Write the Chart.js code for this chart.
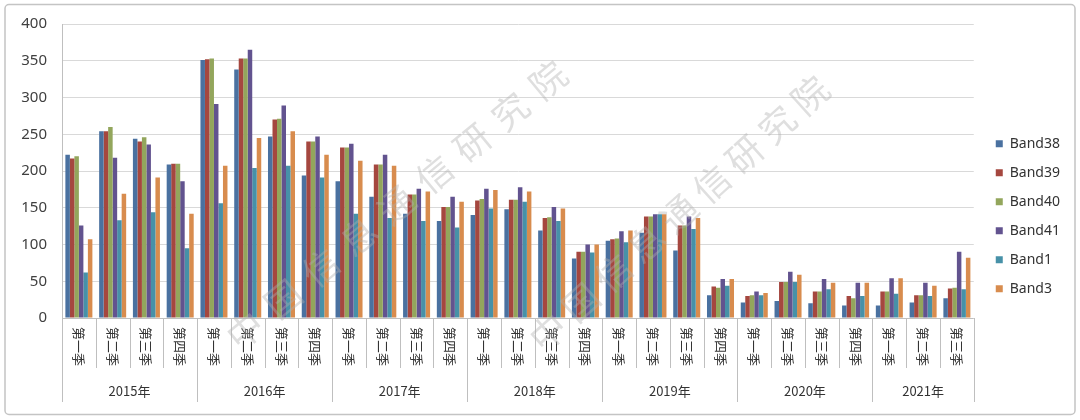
<!DOCTYPE html>
<html>
<head>
<meta charset="utf-8">
<script src="https://cdn.jsdelivr.net/npm/chart.js@4.4.0/dist/chart.umd.min.js"></script>
<style>
  html, body { margin: 0; padding: 0; background: #fff; }
  #chart { display: block; }
</style>
</head>
<body>
<canvas id="chart" width="1080" height="420"></canvas>
<script>
// categories
const quarterNames = ["第一季", "第二季", "第三季", "第四季"];
const years = ["2015年", "2016年", "2017年", "2018年", "2019年", "2020年", "2021年"];
const quartersPerYear = [4, 4, 4, 4, 4, 4, 3];

// series values
const band38 = [222, 254, 244, 209, 351, 338, 247, 194, 186, 165, 142, 132, 140, 148, 119, 81, 105, 116, 92, 31, 21, 23, 20, 17, 17, 21, 27];
const band39 = [217, 254, 240, 210, 352, 353, 270, 240, 232, 209, 168, 151, 160, 161, 136, 90, 107, 138, 126, 43, 30, 49, 36, 30, 36, 31, 40];
const band40 = [220, 260, 246, 210, 353, 353, 271, 240, 232, 209, 168, 151, 162, 161, 137, 90, 108, 138, 126, 41, 31, 49, 36, 27, 36, 31, 41];
const band41 = [126, 218, 236, 186, 291, 365, 289, 247, 237, 222, 176, 165, 176, 178, 151, 100, 118, 141, 138, 53, 36, 63, 53, 48, 54, 48, 90];
const band1  = [62, 133, 144, 95, 156, 204, 207, 191, 142, 136, 132, 123, 149, 158, 132, 89, 103, 141, 121, 44, 31, 49, 39, 30, 33, 30, 39];
const band3  = [107, 169, 191, 142, 207, 245, 254, 222, 214, 207, 172, 158, 174, 172, 149, 100, 119, 141, 136, 53, 34, 59, 48, 48, 54, 44, 82];

const yTicks = [0, 50, 100, 150, 200, 250, 300, 350, 400];
const watermark = "中国信息通信研究院";

// build the category list: one entry per quarter
let labels = [];
quartersPerYear.forEach((n, y) => {
  for (let q = 0; q < n; q++) labels.push(quarterNames[q]);
});

const seriesNames = ["Band38", "Band39", "Band40", "Band41", "Band1", "Band3"];
const seriesData = [band38, band39, band40, band41, band1, band3];
const colors = ["#4a71a0", "#a5473f", "#93a65c", "#62538f", "#4791a8", "#d88c4e"];

//Draw frame, quarter/year labels and the watermark
const decorPlugin = {
  id: "decor",
  beforeDraw(chart){
    let c = chart.ctx;
    c.save();
    c.fillStyle = "#fff";
    c.fillRect(0, 0, chart.width, chart.height);
    c.strokeStyle = "#c4c4c4";
    c.lineWidth = 1.5;
    c.beginPath();
    c.roundRect(5, 4.5, 1070, 410, 4);
    c.stroke();
    c.restore();
  },
  afterDatasetsDraw(chart){
    let c = chart.ctx;
    let xs = chart.scales.x;
    let area = chart.chartArea;
    let n = labels.length;
    let step = (xs.right - xs.left) / n;
    let base = area.bottom;

    c.save();
    //separators
    c.strokeStyle = "#bfbfbf";
    c.lineWidth = 1;
    let yearStarts = [0];
    quartersPerYear.forEach(q => yearStarts.push(yearStarts[yearStarts.length - 1] + q));
    for(let k = 0; k <= n; k++){
      let x = Math.round(xs.left + k * step) + 0.5;
      let long = yearStarts.includes(k);
      c.beginPath();
      c.moveTo(x, base);
      c.lineTo(x, long ? base + 84 : base + 50);
      c.stroke();
    }

    //quarter labels, vertical
    c.fillStyle = "#333";
    c.font = '13px "Noto Sans CJK SC"';
    c.textAlign = "left";
    c.textBaseline = "middle";
    labels.forEach((lab, i) => {
      let x = xs.getPixelForValue(i);
      c.save();
      c.translate(x, base + 9);
      c.rotate(Math.PI / 2);
      c.fillText(lab, 0, 0);
      c.restore();
    });

    //year labels
    c.textAlign = "center";
    years.forEach((yr, k) => {
      let x0 = xs.left + yearStarts[k] * step;
      let x1 = xs.left + yearStarts[k + 1] * step;
      c.fillText(yr, (x0 + x1) / 2, base + 73);
    });

    //watermark
    c.fillStyle = "rgba(175,175,175,0.4)";
    c.font = '36px "Noto Sans CJK SC"';
    c.textAlign = "center";
    c.textBaseline = "middle";
    [[245, 330, 548, 80], [548, 332, 810, 95]].forEach(([sx, sy, ex, ey]) => {
      let chars = watermark.split("");
      let ang = Math.atan2(ey - sy, ex - sx);
      chars.forEach((ch, k) => {
        let t = k / (chars.length - 1);
        c.save();
        c.translate(sx + (ex - sx) * t, sy + (ey - sy) * t);
        c.rotate(ang);
        c.fillText(ch, 0, 0);
        c.restore();
      });
    });
    c.restore();
  }
};

let ctx = document.querySelector("#chart").getContext("2d");

let chart = new Chart(ctx, {
  type: "bar",
  data: {
    labels: labels,
    datasets: seriesNames.map((name, i) => ({
      label: name,
      data: seriesData[i],
      backgroundColor: colors[i],
      borderWidth: 0,
      categoryPercentage: 0.8,
      barPercentage: 1.0
    }))
  },
  options: {
    responsive: false,
    animation: false,
    layout: { padding: { left: 10, right: 10, top: 21, bottom: 18 } },
    plugins: {
      legend: {
        position: "right",
        //empty title only pushes the items down a little
        title: { display: true, text: " ", padding: 0, font: { size: 8 } },
        labels: {
          boxWidth: 7,
          boxHeight: 7,
          padding: 15,
          color: "#333",
          font: { size: 14, family: "Noto Sans" }
        }
      },
      tooltip: { enabled: false }
    },
    scales: {
      x: {
        grid: { display: false },
        border: { display: false },
        ticks: { display: false },
        afterFit(s){ s.height = 84; }
      },
      y: {
        min: 0,
        max: 400,
        afterBuildTicks(s){ s.ticks = yTicks.map(v => ({value: v})); },
        grid: {
          drawTicks: false,
          color: c => c.tick && c.tick.value === 0 ? "#bfbfbf" : "#d9d9d9"
        },
        border: { display: true, color: "#bfbfbf" },
        ticks: {
          padding: 15,
          color: "#404040",
          font: { size: 15, family: "Noto Sans" }
        },
        afterFit(s){ s.width = 52; }
      },
      gap: {
        type: "linear",
        position: "right",
        grid: { display: false },
        border: { display: false },
        ticks: { display: false },
        afterFit(s){ s.width = 7; }
      }
    }
  },
  plugins: [decorPlugin]
});
</script>
</body>
</html>
